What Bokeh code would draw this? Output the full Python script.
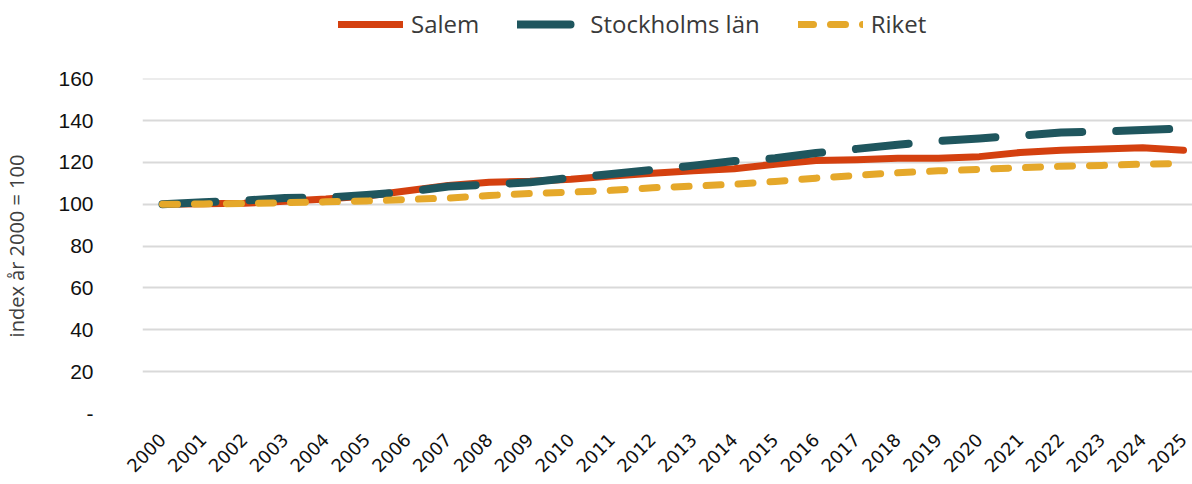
from math import pi
from bokeh.plotting import figure
from bokeh.layouts import column
from bokeh.models import Legend, LegendItem, FixedTicker, Range1d
from bokeh.embed import file_html
from bokeh.resources import INLINE

years = list(range(2000, 2026))
salem = [100, 100.3, 100.5, 101.5, 102.5, 104.0, 106.5, 109.0, 110.5, 111.0,
         112.0, 113.5, 114.8, 116.0, 117.0, 119.2, 120.9, 121.3, 122.0, 122.0,
         122.8, 124.8, 125.8, 126.5, 127.0, 125.8]
stockholm = [100, 101.0, 101.8, 103.0, 103.2, 104.5, 106.0, 108.5, 109.5, 110.5,
             112.7, 114.5, 116.5, 118.5, 120.7, 122.0, 124.5, 126.5, 128.5, 130.3,
             131.5, 132.8, 134.3, 134.8, 135.5, 136.2]
riket = [100, 100.2, 100.4, 100.8, 101.2, 101.6, 102.3, 103.0, 104.2, 105.2,
         105.8, 106.7, 107.9, 108.7, 109.6, 110.9, 112.5, 113.8, 115.1, 116.0,
         116.7, 117.5, 118.2, 118.6, 119.2, 119.5]
series_names = ["Salem", "Stockholms län", "Riket"]
y_ticks = [0, 20, 40, 60, 80, 100, 120, 140, 160]
y_title = "index år 2000 = 100"

colors = ["#D4400F", "#1F565E", "#E5A82A"]
widths = [7, 8, 7]
dashes = ["solid", "53 34", "15 17"]
all_series = [salem, stockholm, riket]

# ---------------- main chart ----------------
p = figure(width=1192, height=418, output_backend="svg", toolbar_location=None,
           x_range=Range1d(1999.511, 2025.22), y_range=Range1d(0, 160.15),
           min_border_left=141, min_border_right=0, min_border_top=12,
           min_border_bottom=71)
p.outline_line_color = None
p.background_fill_color = "white"
p.border_fill_color = "white"

for vals, c, w, d in zip(all_series, colors, widths, dashes):
    p.line(years, vals, line_color=c, line_width=w, line_dash=d,
           line_cap="round", line_join="round")

# x axis
p.xaxis.ticker = FixedTicker(ticks=years)
p.xaxis.major_label_orientation = pi / 4
p.xaxis.axis_line_color = None
p.xaxis.major_tick_line_color = None
p.xaxis.minor_tick_line_color = None
p.xaxis.major_tick_out = 0
p.xaxis.major_label_standoff = 23
p.xaxis.major_label_text_font = "DejaVu Sans"
p.xaxis.major_label_text_font_size = "18px"
p.xaxis.major_label_text_color = "#111111"

# y axis
p.yaxis.ticker = FixedTicker(ticks=y_ticks)
p.yaxis.major_label_overrides = {0: "-"}
p.yaxis.axis_line_color = None
p.yaxis.major_tick_line_color = None
p.yaxis.minor_tick_line_color = None
p.yaxis.major_tick_out = 0
p.yaxis.major_label_standoff = 49
p.yaxis.major_label_text_font = "Liberation Sans"
p.yaxis.major_label_text_font_size = "21px"
p.yaxis.major_label_text_color = "#111111"
p.yaxis.axis_label = y_title
p.yaxis.axis_label_text_font = "Open Sans"
p.yaxis.axis_label_text_font_style = "normal"
p.yaxis.axis_label_text_font_size = "20px"
p.yaxis.axis_label_text_color = "#404040"
p.yaxis.axis_label_standoff = 25

p.xgrid.grid_line_color = None
p.ygrid.ticker = FixedTicker(ticks=y_ticks)
p.ygrid.grid_line_color = "#d9d9d9"
p.ygrid.grid_line_width = 2

# ---------------- legend strip on top ----------------
# same series drawn into an off-range view (nothing visible), used only as legend sources
lg = figure(width=1192, height=66, output_backend="svg", toolbar_location=None,
            x_range=Range1d(0, 1), y_range=Range1d(0, 1),
            min_border_left=0, min_border_right=0, min_border_top=0,
            min_border_bottom=0)
lg.outline_line_color = None
lg.axis.visible = False
lg.grid.visible = False
lg.background_fill_color = "white"
lg.border_fill_color = "white"

items = []
for name, vals, c, w, d in zip(series_names, all_series, colors, widths, dashes):
    r = lg.line(years, vals, line_color=c, line_width=w, line_dash=d,
                line_cap="round", line_join="round")
    items.append(LegendItem(label=name, renderers=[r]))

legend = Legend(items=items, orientation="horizontal", location=(196, 26))
legend.border_line_color = None
legend.background_fill_alpha = 0
legend.label_text_font = "Open Sans"
legend.label_text_font_size = "24px"
legend.label_text_color = "#3a3a3a"
legend.glyph_width = 65
legend.glyph_height = 30
legend.label_height = 30
legend.label_standoff = 8
legend.spacing = 38
legend.padding = 6
legend.margin = 0
lg.add_layout(legend, "center")

layout = column(lg, p, spacing=0)
open("out.html", "w").write(file_html(layout, INLINE))
